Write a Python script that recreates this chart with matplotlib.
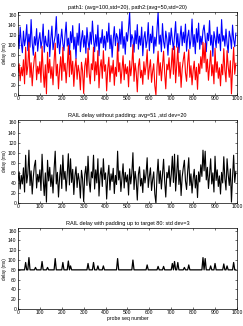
import numpy as np
import matplotlib
matplotlib.use("Agg")
import matplotlib.pyplot as plt

# probe sequence numbers (sampled every 5 probes)
seq = list(range(0, 1000, 5))

# path1 delay (ms), avg ~100, std ~20
path1 = [118, 92, 135, 104, 84, 127, 98, 112, 140, 88, 121, 95, 150, 103, 79, 116, 99, 132, 87, 110,
         124, 93, 108, 141, 85, 117, 100, 96, 129, 76, 112, 137, 90, 105, 118, 156, 94, 121, 82, 109,
         131, 102, 88, 119, 145, 97, 113, 80, 126, 104, 138, 91, 115, 72, 123, 99, 142, 86, 111, 128,
         95, 118, 83, 134, 107, 90, 125, 101, 147, 112, 86, 120, 97, 139, 78, 114, 103, 130, 94, 117,
         89, 126, 105, 143, 92, 119, 75, 110, 136, 98, 122, 114, 87, 131, 101, 146, 93, 116, 81, 124,
         107, 133, 165, 96, 120, 112, 85, 128, 102, 140, 91, 117, 99, 135, 78, 113, 126, 94, 108, 144,
         88, 121, 104, 137, 83, 115, 97, 130, 165, 101, 119, 86, 142, 106, 93, 127, 111, 79, 124, 100,
         133, 109, 90, 118, 146, 95, 122, 84, 113, 137, 98, 125, 104, 141, 87, 116, 129, 92, 110, 151,
         96, 120, 82, 132, 105, 143, 91, 117, 100, 128, 139, 114, 86, 123, 108, 148, 99, 119, 77, 126,
         112, 94, 135, 103, 121, 88, 150, 107, 118, 97, 131, 102, 84, 127, 115, 92, 139, 110, 96, 123]

# path2 delay (ms), avg ~50, std ~20
path2 = [45, 62, 28, 55, 38, 70, 22, 95, 40, 58, 105, 35, 64, 18, 52, 74, 85, 30, 57, 42,
         66, 25, 97, 48, 15, 60, 2, 85, 44, 71, 33, 56, 20, 68, 103, 38, 61, 12, 50, 76,
         29, 95, 47, 63, 24, 58, 98, 36, 88, 41, 67, 17, 54, 72, 31, 59, 45, 10, 65, 48,
         3, 57, 73, 35, 93, 44, 22, 62, 50, 95, 28, 66, 40, 88, 14, 55, 70, 33, 88, 47,
         60, 8, 52, 75, 26, 58, 43, 69, 19, 55, 37, 103, 46, 64, 23, 51, 78, 30, 61, 42,
         56, 16, 68, 38, 59, 100, 27, 63, 45, 6, 57, 72, 34, 49, 21, 66, 40, 58, 90, 31,
         53, 70, 25, 47, 62, 18, 0, 55, 87, 39, 64, 28, 58, 87, 43, 12, 61, 50, 74, 33,
         56, 93, 41, 97, 24, 60, 95, 37, 65, 15, 52, 70, 85, 44, 27, 63, 90, 35, 58, 20,
         48, 67, 30, 55, 11, 62, 42, 76, 53, 105, 64, 103, 46, 71, 29, 57, 88, 38, 60, 22,
         93, 45, 66, 33, 54, 18, 61, 40, 92, 49, 26, 88, 57, 35, 68, 2, 52, 95, 41, 63]

target = 80

# RAIL takes the first copy to arrive, padding holds it back to the target
rail = np.minimum(path1, path2)
padded = np.maximum(rail, target)

plt.rcParams['font.family'] = ['Liberation Sans', 'DejaVu Sans']

fig = plt.figure(figsize=(2.43, 3.26), dpi=100)
ax1 = fig.add_axes([0.074, 0.709, 0.901, 0.254])
ax2 = fig.add_axes([0.074, 0.377, 0.901, 0.255])
ax3 = fig.add_axes([0.074, 0.052, 0.901, 0.248])

ax1.plot(seq, path1, color='#0000ff', lw=0.8)
ax1.plot(seq, path2, color='#ff0000', lw=0.8)
ax1.set_title('path1: (avg=100,std=20), path2:(avg=50,std=20)', fontsize=4, pad=2)

ax2.plot(seq, rail, color='black', lw=0.8)
ax2.set_title('RAIL delay without padding: avg=51 ,std dev=20', fontsize=4, pad=2)

ax3.plot(seq, padded, color='black', lw=0.9)
ax3.set_title('RAIL delay with padding up to target 80: std dev=3', fontsize=4, pad=2)
ax3.set_xlabel('probe seq number', fontsize=3.6, labelpad=0.5)

for ax in [ax1, ax2, ax3]:
    ax.set_xlim(0, 1000)
    ax.set_ylim(0, 165)
    ax.set_xticks(range(0, 1001, 100))
    ax.set_yticks(range(0, 161, 20))
    ax.set_ylabel('delay (ms)', fontsize=3.3, labelpad=1)
    ax.tick_params(direction='in', length=1.5, width=0.4, labelsize=3.6, pad=1,
                   top=True, right=True)
    for s in ax.spines.values():
        s.set_linewidth(0.5)

fig.savefig('out.png', dpi=100)
